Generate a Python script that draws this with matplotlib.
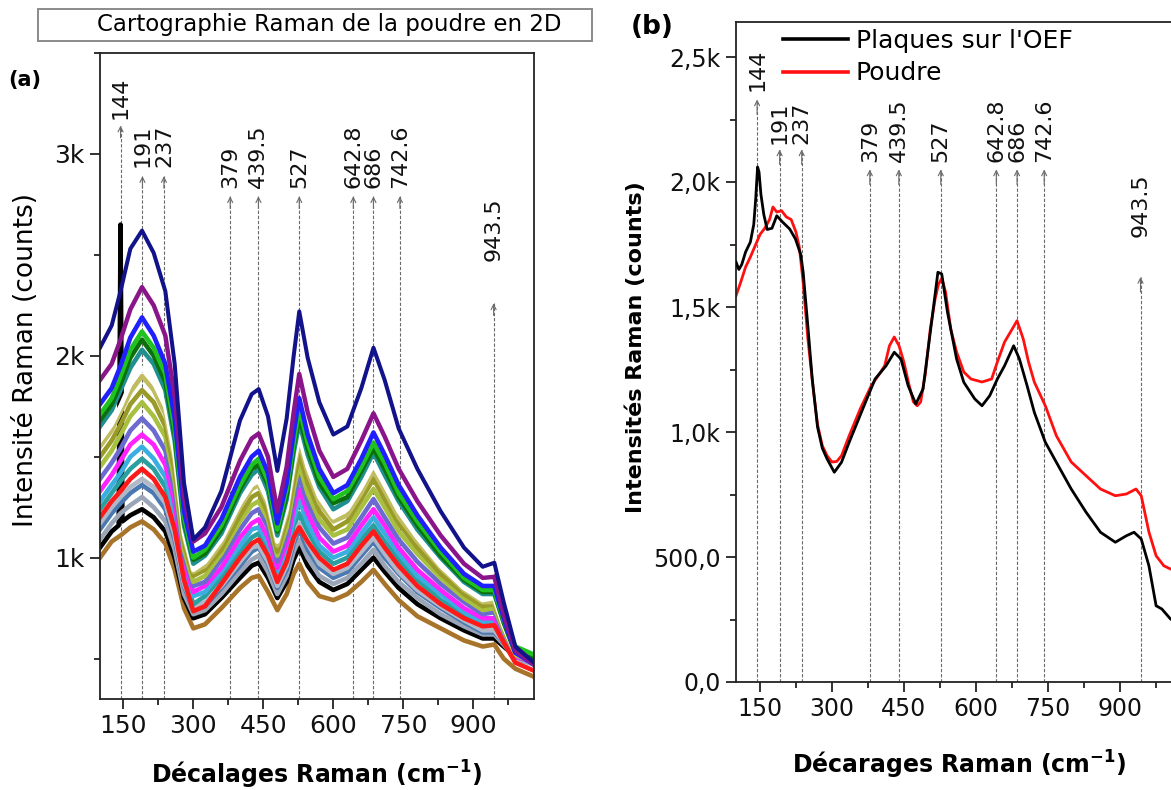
import matplotlib
matplotlib.use("Agg")
import matplotlib.pyplot as plt
from matplotlib.patches import Rectangle
from matplotlib.ticker import MultipleLocator, FixedLocator, FixedFormatter

plt.rcParams['font.family'] = ['DejaVu Sans']

# ---------------------------------------------------------------- peak marks
PEAKS = [144, 191, 237, 379, 439.5, 527, 642.8, 686, 742.6, 943.5]
PEAK_LABELS = ['144', '191', '237', '379', '439.5', '527', '642.8', '686', '742.6', '943.5']

# ---------------------------------------------------------------- panel (a): 2D map spectra
XA = [100, 125, 144, 165, 190, 215, 240, 260, 280, 300, 325, 360, 400, 425, 440, 460,
      480, 500, 515, 527, 545, 570, 600, 630, 660, 686, 710, 740, 780, 830, 880, 920,
      945, 965, 990, 1030]

A_NAVY = [2040, 2150, 2320, 2530, 2620, 2510, 2320, 1960, 1370, 1090, 1150, 1330, 1680, 1810, 1835, 1700,
          1430, 1690, 2000, 2220, 1990, 1770, 1610, 1650, 1840, 2040, 1880, 1640, 1440, 1230, 1050, 955,
          975, 780, 560, 480]
A_PURPLE = [1880, 1960, 2080, 2230, 2340, 2250, 2100, 1800, 1300, 1080, 1120, 1250, 1480, 1590, 1615, 1500,
            1230, 1450, 1720, 1910, 1720, 1530, 1400, 1440, 1580, 1715, 1600, 1440, 1280, 1110, 970, 900,
            905, 720, 540, 470]
A_BLUE = [1760, 1840, 1950, 2090, 2190, 2100, 1960, 1690, 1230, 1030, 1060, 1190, 1400, 1500, 1530, 1420,
          1170, 1370, 1620, 1790, 1610, 1440, 1320, 1360, 1490, 1620, 1510, 1360, 1210, 1050, 920, 860,
          860, 700, 530, 470]
A_GREEN = [1710, 1790, 1900, 2030, 2120, 2040, 1910, 1640, 1200, 1000, 1040, 1160, 1360, 1460, 1490, 1380,
           1140, 1340, 1570, 1740, 1570, 1400, 1290, 1330, 1450, 1570, 1470, 1320, 1180, 1030, 900, 840,
           840, 690, 560, 520]
A_DKGREEN = [1680, 1760, 1860, 1990, 2080, 2000, 1870, 1610, 1180, 990, 1020, 1140, 1340, 1440, 1460, 1360,
             1130, 1310, 1550, 1700, 1540, 1370, 1270, 1300, 1430, 1540, 1440, 1300, 1160, 1010, 890, 830,
             830, 680, 530, 500]
A_DCYAN = [1650, 1730, 1830, 1940, 2030, 1960, 1830, 1580, 1160, 970, 1010, 1120, 1320, 1410, 1440, 1330,
           1110, 1290, 1520, 1670, 1510, 1350, 1240, 1280, 1400, 1520, 1410, 1280, 1140, 1000, 880, 820,
           820, 680, 530, 480]
A_WHITE = [1580, 1660, 1750, 1860, 1940, 1870, 1750, 1510, 1120, 940, 980, 1090, 1270, 1360, 1380, 1280,
           1080, 1240, 1460, 1600, 1450, 1300, 1200, 1240, 1350, 1460, 1360, 1230, 1100, 960, 850, 790,
           800, 660, 530, 480]
A_KHAKI = [1550, 1630, 1720, 1820, 1900, 1830, 1710, 1480, 1100, 930, 960, 1070, 1250, 1340, 1360, 1260,
           1060, 1220, 1430, 1570, 1420, 1270, 1180, 1210, 1320, 1430, 1330, 1200, 1080, 950, 840, 780,
           780, 660, 520, 480]
A_OLIVE = [1500, 1580, 1660, 1760, 1830, 1770, 1650, 1430, 1070, 910, 940, 1040, 1210, 1300, 1320, 1220,
           1030, 1190, 1380, 1510, 1370, 1230, 1140, 1180, 1290, 1390, 1290, 1170, 1050, 920, 820, 760,
           770, 650, 520, 480]
A_YGREEN = [1450, 1530, 1610, 1700, 1770, 1700, 1600, 1380, 1040, 880, 910, 1020, 1180, 1260, 1280, 1190,
            1010, 1150, 1340, 1460, 1320, 1190, 1110, 1140, 1250, 1340, 1250, 1130, 1020, 900, 800, 740,
            750, 640, 520, 480]
A_SLATE = [1390, 1470, 1540, 1630, 1690, 1630, 1530, 1330, 1010, 860, 880, 990, 1140, 1220, 1240, 1150,
           980, 1110, 1290, 1400, 1270, 1150, 1070, 1100, 1200, 1290, 1200, 1090, 980, 870, 780, 720,
           730, 630, 520, 480]
A_MAGENTA = [1330, 1410, 1480, 1560, 1610, 1560, 1460, 1270, 970, 830, 860, 950, 1100, 1170, 1190, 1100,
             950, 1070, 1240, 1340, 1220, 1100, 1030, 1060, 1160, 1240, 1160, 1050, 940, 840, 750, 700,
             700, 610, 510, 480]
A_SKY = [1280, 1360, 1420, 1500, 1550, 1490, 1400, 1220, 940, 810, 830, 930, 1060, 1140, 1150, 1070,
         920, 1040, 1190, 1290, 1170, 1060, 1000, 1030, 1120, 1200, 1120, 1020, 910, 820, 730, 680,
         690, 600, 510, 480]
A_CADET = [1240, 1320, 1380, 1440, 1490, 1440, 1350, 1180, 920, 770, 810, 900, 1030, 1100, 1120, 1040,
           900, 1010, 1160, 1220, 1130, 1030, 970, 1000, 1090, 1160, 1080, 990, 890, 790, 720, 670,
           670, 600, 510, 480]
A_RED = [1200, 1280, 1330, 1390, 1440, 1390, 1300, 1140, 890, 735, 760, 870, 1000, 1070, 1090, 1010,
         880, 980, 1100, 1150, 1080, 1000, 940, 970, 1060, 1130, 1050, 960, 860, 770, 700, 660,
         665, 580, 480, 440]
A_LSTEEL = [1170, 1250, 1300, 1350, 1390, 1350, 1270, 1110, 870, 750, 780, 860, 980, 1050, 1060, 980,
            860, 960, 1090, 1170, 1070, 970, 920, 950, 1030, 1100, 1020, 930, 840, 760, 690, 640,
            640, 580, 500, 480]
A_STEEL = [1140, 1220, 1270, 1320, 1360, 1320, 1240, 1090, 860, 740, 760, 850, 960, 1030, 1050, 970,
           850, 940, 1070, 1140, 1040, 950, 900, 930, 1010, 1080, 1000, 920, 830, 750, 680, 630,
           630, 580, 500, 480]
A_GRAY = [1090, 1170, 1220, 1260, 1300, 1250, 1180, 1040, 820, 720, 740, 820, 930, 990, 1010, 930,
          820, 910, 1030, 1090, 1000, 910, 870, 900, 970, 1040, 960, 880, 800, 720, 660, 620,
          620, 570, 500, 470]
A_BROWN = [1000, 1080, 1110, 1150, 1180, 1140, 1070, 940, 750, 650, 670, 750, 850, 900, 910, 830,
           740, 820, 920, 970, 880, 810, 790, 820, 880, 940, 870, 790, 710, 650, 590, 560,
           570, 500, 450, 410]

# the black map spectrum carries a narrow spike at 144 cm-1
XA_BLACK = [100, 125, 140, 144, 148, 165, 190, 215, 240, 260, 280, 300, 325, 360, 400, 425, 440, 460,
            480, 500, 515, 527, 545, 570, 600, 630, 660, 686, 710, 740, 780, 830, 880, 920,
            945, 965, 990, 1030]
A_BLACK = [1050, 1130, 1160, 2650, 1180, 1210, 1240, 1200, 1130, 1000, 800, 700, 720, 800, 900, 960, 975, 900,
           800, 880, 990, 1050, 960, 880, 840, 870, 940, 1000, 930, 850, 770, 700, 640, 600,
           600, 560, 510, 500]

# ---------------------------------------------------------------- panel (b): plates vs powder
XB_PLAQUES = [100, 106, 112, 120, 130, 137, 141, 145, 148, 152, 158, 165, 175, 185, 197, 212, 224, 235,
              240, 250, 259, 270, 280, 290, 305, 320, 336, 367, 390, 413, 430, 444, 459, 475, 490,
              506, 521, 529, 541, 560, 575, 598, 613, 629, 645, 660, 679, 691, 707, 722, 745, 768,
              799, 830, 860, 891, 914, 930, 945, 961, 976, 988, 1006, 1030]
B_PLAQUES = [1680, 1650, 1670, 1720, 1760, 1830, 1930, 2060, 2040, 1950, 1870, 1810, 1815, 1865, 1840, 1812, 1772, 1710,
             1640, 1420, 1212, 1020, 935, 892, 839, 879, 959, 1105, 1212, 1265, 1319, 1292, 1185, 1112, 1172,
             1412, 1639, 1632, 1479, 1292, 1199, 1132, 1105, 1145, 1212, 1265, 1345, 1292, 1185, 1079, 959, 879,
             772, 679, 599, 559, 585, 599, 572, 465, 305, 292, 252, 225]

XB_POUDRE = [100, 110, 120, 130, 140, 150, 160, 170, 177, 185, 195, 205, 215, 225, 232, 240, 250, 260,
             270, 280, 290, 300, 310, 320, 336, 359, 382, 400, 410, 420, 430, 440, 450, 460, 470, 478,
             485, 495, 505, 515, 522, 529, 537, 548, 560, 575, 590, 613, 633, 645, 660, 676, 686, 699,
             710, 722, 745, 768, 799, 830, 860, 891, 914, 934, 945, 961, 976, 992, 1006, 1030]
B_POUDRE = [1545, 1600, 1660, 1700, 1745, 1790, 1815, 1850, 1900, 1880, 1885, 1860, 1850, 1800, 1740, 1600, 1370, 1190,
            1030, 945, 905, 880, 882, 905, 985, 1092, 1185, 1235, 1265, 1345, 1380, 1345, 1280, 1195, 1120, 1105,
            1120, 1235, 1410, 1530, 1590, 1615, 1560, 1410, 1320, 1240, 1212, 1200, 1212, 1280, 1360, 1412, 1445, 1372,
            1280, 1200, 1105, 985, 880, 825, 772, 745, 752, 772, 745, 600, 505, 465, 452, 440]

LEGEND_B = ["Plaques sur l'OEF", "Poudre"]

Y_TICKS_A = [1000, 2000, 3000]
Y_LABELS_A = ['1k', '2k', '3k']
Y_TICKS_B = [0, 500, 1000, 1500, 2000, 2500]
Y_LABELS_B = ['0,0', '500,0', '1,0k', '1,5k', '2,0k', '2,5k']
X_TICKS = [150, 300, 450, 600, 750, 900]

# ---------------------------------------------------------------- figure
W, H = 1171, 790
fig = plt.figure(figsize=(W / 100, H / 100), dpi=100)

def fx(px):
    return px / W

def fy(py):
    return 1 - py / H

axa = fig.add_axes([fx(100), fy(699), fx(534) - fx(100), fy(53) - fy(699)])
axb = fig.add_axes([fx(736), fy(682), fx(1182) - fx(736), fy(22) - fy(682)])

GRID_GRAY = '#6a6a6a'


def mark_peaks(ax, tips, text_bottoms, ybase, fs, head_len):
    for x, tip, tb, lab in zip(PEAKS, tips, text_bottoms, PEAK_LABELS):
        ax.plot([x, x], [ybase, tip], color=GRID_GRAY, lw=0.8, ls=(0, (3, 1.6)), zorder=0.5)
        ax.annotate('', xy=(x, tip), xytext=(x, tip - head_len),
                    arrowprops=dict(arrowstyle='->', color=GRID_GRAY, lw=0.8,
                                    shrinkA=0, shrinkB=0, mutation_scale=9),
                    zorder=0.6)
        ax.text(x, tb, lab, rotation=90, ha='center', va='bottom', fontsize=fs, color='#111111')


def style_axes(ax, lab_size):
    for s in ax.spines.values():
        s.set_linewidth(1.3)
        s.set_color('#222222')
    ax.tick_params(which='major', direction='out', length=7, width=1.3, labelsize=lab_size,
                   pad=4, colors='#222222', labelcolor='#111111')
    ax.tick_params(which='minor', direction='out', length=4, width=1.3, colors='#222222')
    ax.tick_params(top=False, right=False)


# ---------------- panel (a)
band_a = [
    (XA, A_BROWN, '#a8742a'),
    (XA_BLACK, A_BLACK, '#000000'),
    (XA, A_GRAY, '#9aa6b8'),
    (XA, A_STEEL, '#4a78b0'),
    (XA, A_LSTEEL, '#b0b8c8'),
    (XA, A_CADET, '#2a9fa0'),
    (XA, A_SKY, '#3aaee0'),
    (XA, A_MAGENTA, '#ff22ff'),
    (XA, A_SLATE, '#6a6ad0'),
    (XA, A_YGREEN, '#a8c040'),
    (XA, A_OLIVE, '#9a9a28'),
    (XA, A_KHAKI, '#c0bc60'),
    (XA, A_WHITE, '#ffffff'),
    (XA, A_DCYAN, '#1f8f8f'),
    (XA, A_DKGREEN, '#0b700b'),
    (XA, A_GREEN, '#1fc21f'),
    (XA, A_BLUE, '#2020ff'),
    (XA, A_RED, '#ff1a1a'),
]
for xs, ys, c in band_a:
    axa.plot(xs, ys, color=c, lw=3.3, solid_joinstyle='round', zorder=2)
axa.plot(XA, A_PURPLE, color='#8a158a', lw=3.2, solid_joinstyle='round', zorder=2)
axa.plot(XA, A_NAVY, color='#12128a', lw=2.9, solid_joinstyle='round', zorder=2)

axa.set_xlim(100, 1030)
axa.set_ylim(300, 3500)
axa.xaxis.set_major_locator(FixedLocator(X_TICKS))
axa.xaxis.set_minor_locator(MultipleLocator(75))
axa.yaxis.set_major_locator(FixedLocator(Y_TICKS_A))
axa.yaxis.set_major_formatter(FixedFormatter(Y_LABELS_A))
axa.yaxis.set_minor_locator(MultipleLocator(500))
style_axes(axa, 18)
mark_peaks(axa, [3140, 2890, 2890, 2790, 2790, 2790, 2790, 2790, 2790, 2260],
           [3175, 2935, 2935, 2830, 2830, 2830, 2830, 2830, 2830, 2470], 300, 16, 60)
axa.set_xlabel('Décalages Raman (cm$^{\\mathbf{-1}}$)', fontsize=17, fontweight='bold', labelpad=15)
axa.set_ylabel('Intensité Raman (counts)', fontsize=19)
axa.yaxis.set_label_coords(-0.14, 0.525)

# ---------------- panel (b)
axb.plot(XB_PLAQUES, B_PLAQUES, color='#000000', lw=2.0, label=LEGEND_B[0], zorder=3)
axb.plot(XB_POUDRE, B_POUDRE, color='#ff1010', lw=2.0, label=LEGEND_B[1], zorder=2)
axb.set_xlim(100, 1030)
axb.set_ylim(0, 2640)
axb.xaxis.set_major_locator(FixedLocator(X_TICKS))
axb.xaxis.set_minor_locator(MultipleLocator(75))
axb.yaxis.set_major_locator(FixedLocator(Y_TICKS_B))
axb.yaxis.set_major_formatter(FixedFormatter(Y_LABELS_B))
axb.yaxis.set_minor_locator(MultipleLocator(250))
style_axes(axb, 17)
mark_peaks(axb, [2330, 2130, 2130, 2050, 2050, 2050, 2050, 2050, 2050, 1620],
           [2365, 2150, 2150, 2080, 2080, 2080, 2080, 2080, 2080, 1780], 0, 16, 60)
axb.set_xlabel('Décarages Raman (cm$^{\\mathbf{-1}}$)', fontsize=17, fontweight='bold', labelpad=20)
axb.set_ylabel('Intensités Raman (counts)', fontsize=16, fontweight='bold')
axb.yaxis.set_label_coords(-0.202, 0.508)
leg = axb.legend(loc='upper left', bbox_to_anchor=(0.083, 1.005), frameon=False, fontsize=18,
                 handlelength=2.6, handletextpad=0.3, labelspacing=0.35, borderaxespad=0)
for ln in leg.get_lines():
    ln.set_linewidth(2.6)

# ---------------- header and panel tags
fig.patches.append(Rectangle((fx(38), fy(41)), fx(592) - fx(38), fy(9) - fy(41),
                             transform=fig.transFigure, fill=False, edgecolor='#8a8a8a', lw=1.4))
fig.text(fx(329), fy(25), 'Cartographie Raman de la poudre en 2D', ha='center', va='center', fontsize=16.5)
fig.text(fx(8), fy(80), '(a)', ha='left', va='center', fontsize=15, fontweight='bold')
fig.text(fx(631), fy(27), '(b)', ha='left', va='center', fontsize=19, fontweight='bold')

fig.savefig('out.png', dpi=100)
